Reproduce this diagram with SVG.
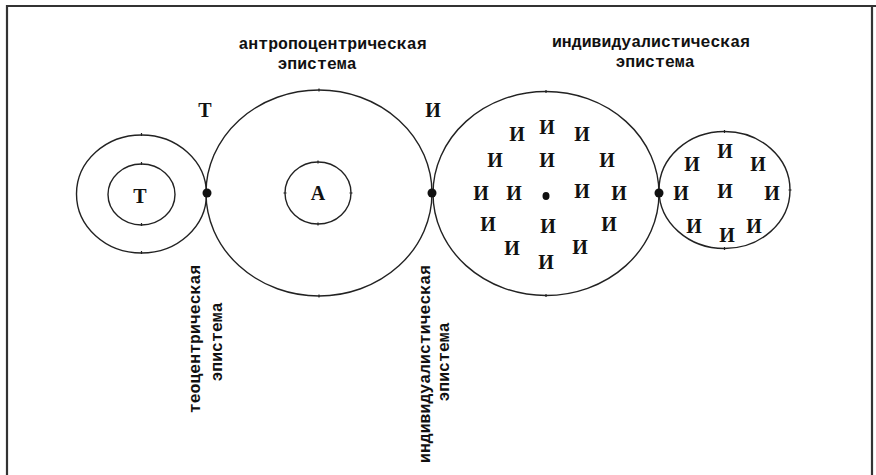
<svg xmlns="http://www.w3.org/2000/svg" width="876" height="475" viewBox="0 0 876 475">
<style>
.c{fill:none;stroke:#222;stroke-width:1.4}
.tk{stroke:#222;stroke-width:1.2}
.d{fill:#111}
.L{font-family:"Liberation Serif","DejaVu Serif",serif;font-weight:bold;font-size:20px;fill:#111;text-anchor:middle}
.lab{font-family:"Liberation Mono","DejaVu Sans Mono",monospace;font-weight:bold;font-size:16.5px;fill:#111;text-anchor:middle}
</style>
<rect width="876" height="475" fill="#fff"/>
<path d="M7 475 V6 H876 M872 6 V475" fill="none" stroke="#333" stroke-width="2.2"/>

<g id="teocentric">
<ellipse class="c" cx="141.5" cy="194" rx="65" ry="59"/>
<ellipse class="c" cx="141.5" cy="194.5" rx="33.5" ry="30.5"/>
<path class="tk" d="M141.5 133v3M141.5 251v3M141.5 162v3M141.5 223v3"/>
<text class="L" x="140" y="203">Т</text>
</g>

<g id="anthropocentric">
<ellipse class="c" cx="319" cy="193" rx="113" ry="103"/>
<ellipse class="c" cx="318" cy="193" rx="33" ry="31"/>
<path class="tk" d="M319 88.5v3M319 294.5v3M318 160.5v3M318 222.5v3M283.5 193h3M349.5 193h3"/>
<text class="L" x="318" y="200">А</text>
</g>

<g id="individualistic">
<ellipse class="c" cx="546" cy="193.5" rx="113" ry="102"/>
<path class="tk" d="M546 90v3M546 294v3"/>
<ellipse class="d" cx="546" cy="196" rx="3.5" ry="4"/>
<text class="L" x="547" y="133.5">И</text>
<text class="L" x="517" y="141">И</text>
<text class="L" x="582" y="141">И</text>
<text class="L" x="495" y="166.5">И</text>
<text class="L" x="547" y="167">И</text>
<text class="L" x="607" y="166.5">И</text>
<text class="L" x="481" y="199.5">И</text>
<text class="L" x="514" y="199.5">И</text>
<text class="L" x="582" y="197.5">И</text>
<text class="L" x="619" y="199.5">И</text>
<text class="L" x="488" y="231">И</text>
<text class="L" x="548" y="233">И</text>
<text class="L" x="609" y="231">И</text>
<text class="L" x="512" y="254.5">И</text>
<text class="L" x="580" y="253.5">И</text>
<text class="L" x="546" y="268.5">И</text>
</g>

<g id="small-individual">
<ellipse class="c" cx="724.5" cy="190" rx="65.5" ry="58.5"/>
<path class="tk" d="M724.5 130v3M724.5 247v3M788.5 190h3"/>
<text class="L" x="725" y="157.5">И</text>
<text class="L" x="692" y="170.5">И</text>
<text class="L" x="758" y="170.5">И</text>
<text class="L" x="681" y="199.5">И</text>
<text class="L" x="725" y="197.5">И</text>
<text class="L" x="772" y="199.5">И</text>
<text class="L" x="694" y="233">И</text>
<text class="L" x="754" y="233">И</text>
<text class="L" x="727" y="242">И</text>
</g>

<g id="connectors">
<circle class="d" cx="207" cy="193" r="4.5"/>
<circle class="d" cx="432" cy="193" r="4.5"/>
<circle class="d" cx="659" cy="193" r="4.5"/>
</g>

<g id="labels">
<text class="L" x="205" y="117">Т</text>
<text class="L" x="433" y="117">И</text>
<text class="lab" x="332.5" y="49">антропоцентрическая</text>
<text class="lab" x="317" y="69">эпистема</text>
<text class="lab" x="651" y="47">индивидуалистическая</text>
<text class="lab" x="655" y="67">эпистема</text>
<text class="lab" transform="translate(199.5,339) rotate(-90)">теоцентрическая</text>
<text class="lab" transform="translate(222,342) rotate(-90)">эпистема</text>
<text class="lab" transform="translate(429.5,364) rotate(-90)">индивидуалистическая</text>
<text class="lab" transform="translate(449,362) rotate(-90)">эпистема</text>
</g>
</svg>
